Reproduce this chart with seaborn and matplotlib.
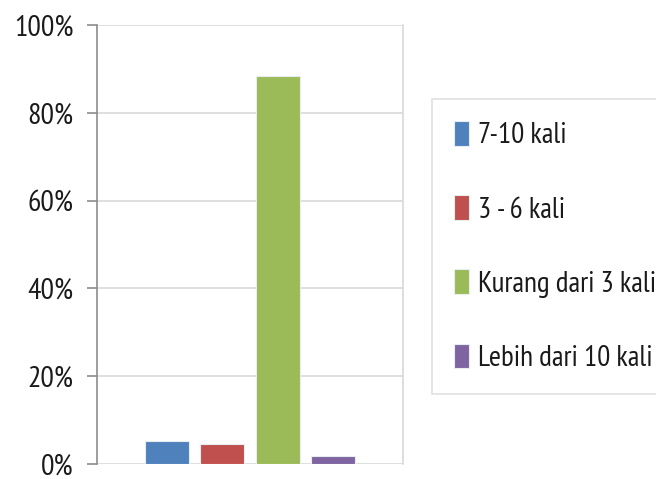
import matplotlib
matplotlib.use("Agg")
import matplotlib.pyplot as plt
import seaborn as sns
from matplotlib.ticker import FuncFormatter

# data (persen)
categories = ['7-10 kali', '3 - 6 kali', 'Kurang dari 3 kali', 'Lebih dari 10 kali']
values = [5.2, 4.5, 88.3, 1.8]
colors = ['#4F81BD', '#C0504D', '#9BBB59', '#8064A2']
y_ticks = [0, 20, 40, 60, 80, 100]

sns.set_style('white')
plt.rcParams['font.family'] = ['PT Sans Narrow', 'Carlito', 'Liberation Sans', 'DejaVu Sans']

fig = plt.figure(figsize=(6.56, 4.79), dpi=100)
ax = fig.add_axes([97/656, 1 - 464/479, (403 - 97)/656, (464 - 25)/479])

sns.barplot(x=categories, y=values, hue=categories, palette=colors,
            width=0.8, saturation=1, edgecolor='#e8eef0', linewidth=0.8,
            legend=True, ax=ax, zorder=3)

ax.set_ylim(0, 100)
ax.set_xlim(-1.27, 4.27)
ax.set_yticks(y_ticks)
ax.yaxis.set_major_formatter(FuncFormatter(lambda v, p: '%d%%' % v))
ax.set_xticks([])
ax.set_xlabel('')
ax.set_ylabel('')

# grid dan sumbu ala Excel
ax.grid(axis='y', color='#d9d9d9', linewidth=1.2, zorder=0)
ax.spines['top'].set_visible(False)
ax.spines['bottom'].set_visible(False)
ax.spines['right'].set_color('#d9d9d9')
ax.spines['right'].set_linewidth(1.2)
ax.spines['left'].set_color('#8c8c8c')
ax.spines['left'].set_linewidth(1.2)
ax.tick_params(axis='y', direction='out', length=7, width=1.2, color='#8c8c8c',
               left=True, pad=10, labelsize=21.5, labelcolor='#1a1a1a')

# legenda
handles, labels = ax.get_legend_handles_labels()
ax.get_legend().remove()
leg = fig.legend(handles, labels, loc='upper left',
                 bbox_to_anchor=(432/656, 1 - 99/479), borderaxespad=0,
                 fontsize=21, frameon=True, fancybox=False,
                 handlelength=0.52, handleheight=0.93, handletextpad=0.3,
                 labelspacing=1.57, borderpad=0.75)
leg.get_frame().set_edgecolor('#d9d9d9')
leg.get_frame().set_linewidth(1.2)
for t in leg.get_texts():
    t.set_color('#1a1a1a')

plt.savefig('out.png', dpi=100)
